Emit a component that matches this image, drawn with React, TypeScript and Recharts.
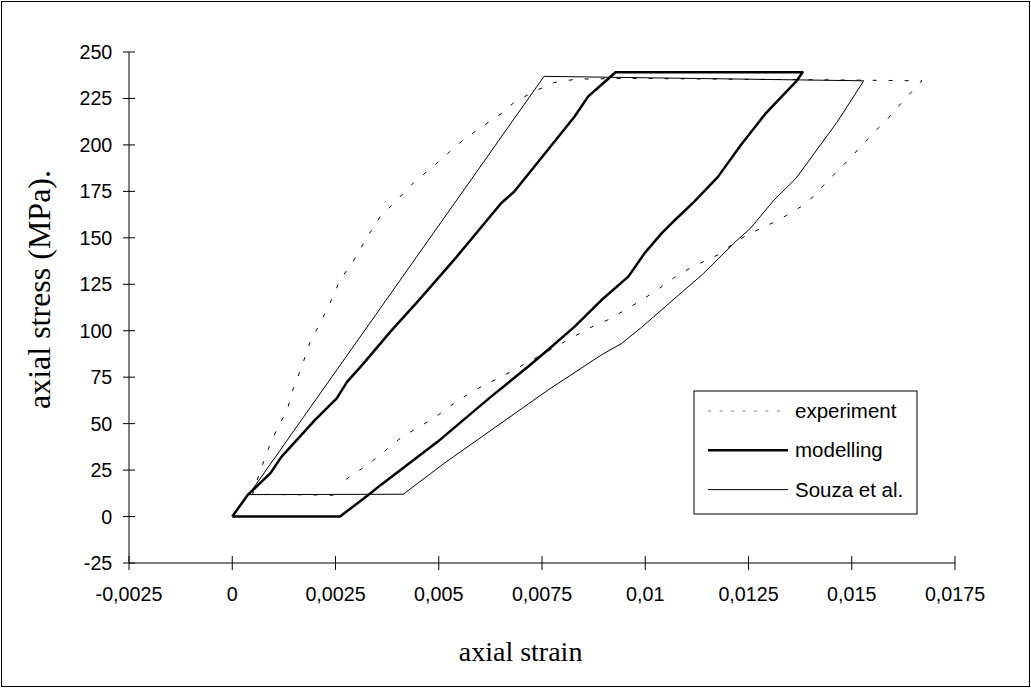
import React from 'react';
import { LineChart, Line, XAxis, YAxis } from 'recharts';

// experiment: lower plateau, loading branch, top, unloading branch
const expStrain = [
  0.00245, 0.00049, 0.00066, 0.00088, 0.00108, 0.00133, 0.00148, 0.00168, 0.00188, 0.00213,
  0.00237, 0.00261, 0.00295, 0.00324, 0.00358, 0.00399, 0.00439, 0.00505, 0.00545, 0.00594,
  0.00655, 0.00682, 0.00731, 0.0078, 0.00833, 0.0096, 0.0125, 0.0145, 0.0167, 0.01637,
  0.01612, 0.01583, 0.01555, 0.01526, 0.01497, 0.01464, 0.01439, 0.0141, 0.01381, 0.0134,
  0.01308, 0.01267, 0.01225, 0.01176, 0.01113, 0.01072, 0.01035, 0.00996, 0.00955, 0.00914,
  0.0087, 0.00825, 0.00782, 0.00699, 0.00655, 0.00606, 0.00565, 0.00524, 0.00492, 0.00453,
  0.00411, 0.00375, 0.00342, 0.00305, 0.00273,
];
const expStress = [
  11.5, 12.0, 23.3, 36.8, 47.0, 57.3, 69.1, 80.6, 93.5, 104.2,
  114.9, 127.3, 138.1, 149.4, 161.3, 170.4, 179.6, 192.0, 200.1, 208.2,
  217.4, 222.8, 228.8, 233.6, 235.4, 235.8, 235.3, 235.0, 234.5, 226.7,
  220.5, 213.0, 207.1, 200.1, 193.1, 185.6, 180.2, 172.8, 167.3, 161.8,
  158.0, 153.7, 148.9, 140.8, 134.3, 128.9, 123.0, 117.1, 111.7, 106.3,
  102.0, 96.6, 91.2, 81.0, 75.6, 70.3, 65.0, 58.9, 53.5, 48.3,
  42.9, 36.3, 30.3, 24.4, 19.6,
];

const modStrain = [
  0, 0.00037, 0.00093, 0.00119, 0.002, 0.00253, 0.00278, 0.00318, 0.00359, 0.00383,
  0.00452, 0.00537, 0.00651, 0.00683, 0.00797, 0.00829, 0.00862, 0.00894, 0.00928, 0.01381,
  0.01365, 0.01291, 0.01232, 0.01176, 0.01118, 0.01072, 0.0104, 0.00999, 0.00959, 0.00894,
  0.00829, 0.00764, 0.00716, 0.00626, 0.00497, 0.00359, 0.00334, 0.00261, 0,
];
const modStress = [
  0, 11.5, 23.5, 32.1, 51.9, 63.6, 72.5, 82.4, 93.2, 99.5,
  116.5, 138.1, 168.6, 174.9, 206.4, 215.3, 226.1, 232.4, 239.1, 239.1,
  234.0, 216.8, 200.1, 182.8, 169.3, 159.6, 152.5, 141.9, 129.1, 116.5,
  102.2, 89.6, 80.6, 64.4, 40.2, 16.9, 12.4, 0, 0,
];

const souzaStrain = [
  0.0004, 0.00755, 0.01529, 0.01464, 0.01365, 0.01312, 0.01255, 0.01219, 0.01138, 0.0104,
  0.00991, 0.00943, 0.00894, 0.00764, 0.00513, 0.00414, 0.0004,
];
const souzaStress = [
  11.8, 236.9, 234.5, 212.1, 182.0, 170.4, 155.2, 148.0, 130.2, 111.3,
  101.8, 93.2, 87.0, 68.0, 28.6, 12.0, 11.8,
];

const xTicks = [-0.0025, 0, 0.0025, 0.005, 0.0075, 0.01, 0.0125, 0.015, 0.0175];
const yTicks = [-25, 0, 25, 50, 75, 100, 125, 150, 175, 200, 225, 250];

const legendItems = ['experiment', 'modelling', 'Souza et al.'];

const zip = (xs: number[], ys: number[]) => xs.map((x, i) => ({ x, y: ys[i] }));

const expData = zip(expStrain, expStress);
const modData = zip(modStrain, modStress);
const souzaData = zip(souzaStrain, souzaStress);

const SANS = '"Liberation Sans", Arial, sans-serif';
const SERIF = '"Liberation Serif", "Times New Roman", serif';

const fmt = (v: number) => String(v).replace('.', ',');

const renderXTick = (props: any) => {
  const { x, y, payload } = props;
  return (
    <g>
      <line x1={x} x2={x} y1={y - 7} y2={y + 7} stroke="#000" />
      <text x={x} y={y + 38} textAnchor="middle" fontFamily={SANS} fontSize={19.7} fill="#000">
        {fmt(payload.value)}
      </text>
    </g>
  );
};

const renderYTick = (props: any) => {
  const { x, y, payload } = props;
  return (
    <g>
      <line x1={x - 6} x2={x + 6} y1={y} y2={y} stroke="#000" />
      <text x={x - 16.7} y={y + 7} textAnchor="end" fontFamily={SANS} fontSize={19.7} fill="#000">
        {fmt(payload.value)}
      </text>
    </g>
  );
};

const renderXLabel = (props: any) => {
  const vb = props.viewBox;
  return (
    <text x={vb.x + vb.width / 2 - 21.4} y={vb.y + 98} textAnchor="middle" fontFamily={SERIF} fontSize={28} fill="#000">
      axial strain
    </text>
  );
};

const renderYLabel = (props: any) => {
  const vb = props.viewBox;
  const cx = vb.x - 10;
  const cy = vb.y + vb.height / 2 - 18;
  return (
    <text x={cx} y={cy} transform={`rotate(-90 ${cx} ${cy})`} textAnchor="middle" fontFamily={SERIF} fontSize={32} fill="#000">
      axial stress (MPa).
    </text>
  );
};

function LegendBox() {
  const dash = ['3 8.5', undefined, undefined];
  const widths = [1, 2.5, 1];
  const colors = ['#808080', '#000', '#000'];
  return (
    <svg width={225} height={125} style={{ position: 'absolute', left: 693, top: 390 }}>
      <rect x={1} y={1} width={223} height={123} fill="#fff" stroke="#000" strokeWidth={1} />
      {legendItems.map((name, i) => {
        const cy = 21 + i * 39.3;
        return (
          <g key={name}>
            <line x1={15} x2={95} y1={cy} y2={cy} stroke={colors[i]} strokeWidth={widths[i]} strokeDasharray={dash[i]} />
            <text x={102} y={cy + 7} fontFamily={SANS} fontSize={20.5} fill="#000">
              {name}
            </text>
          </g>
        );
      })}
    </svg>
  );
}

export default function App() {
  return (
    <div style={{ position: 'absolute', left: 0, top: 0, width: 1031, height: 688, background: '#fff' }}>
      <LineChart width={1030} height={687} margin={{ top: 52, right: 75, bottom: 26, left: 60 }}>
        <XAxis
          type="number"
          dataKey="x"
          domain={[-0.0025, 0.0175]}
          ticks={xTicks}
          allowDataOverflow
          height={98}
          axisLine={{ stroke: '#000' }}
          tickLine={false}
          tickSize={0}
          tickMargin={0}
          tick={renderXTick}
          interval={0}
          label={renderXLabel}
        />
        <YAxis
          type="number"
          dataKey="y"
          domain={[-25, 250]}
          ticks={yTicks}
          allowDataOverflow
          width={69}
          axisLine={{ stroke: '#000' }}
          tickLine={false}
          tickSize={0}
          tickMargin={0}
          tick={renderYTick}
          interval={0}
          label={renderYLabel}
        />
        <Line
          data={expData}
          dataKey="y"
          type="linear"
          stroke="#000"
          strokeWidth={1}
          strokeDasharray="4 12"
          dot={false}
          activeDot={false}
          isAnimationActive={false}
          name="experiment"
        />
        <Line
          data={souzaData}
          dataKey="y"
          type="linear"
          stroke="#000"
          strokeWidth={1}
          dot={false}
          activeDot={false}
          isAnimationActive={false}
          name="Souza et al."
        />
        <Line
          data={modData}
          dataKey="y"
          type="linear"
          stroke="#000"
          strokeWidth={2.5}
          strokeLinejoin="round"
          dot={false}
          activeDot={false}
          isAnimationActive={false}
          name="modelling"
        />
      </LineChart>
      <LegendBox />
      <div
        style={{
          position: 'absolute',
          left: 1,
          top: 1,
          width: 1029,
          height: 686,
          boxSizing: 'border-box',
          border: '1px solid #000',
          pointerEvents: 'none',
        }}
      />
    </div>
  );
}
